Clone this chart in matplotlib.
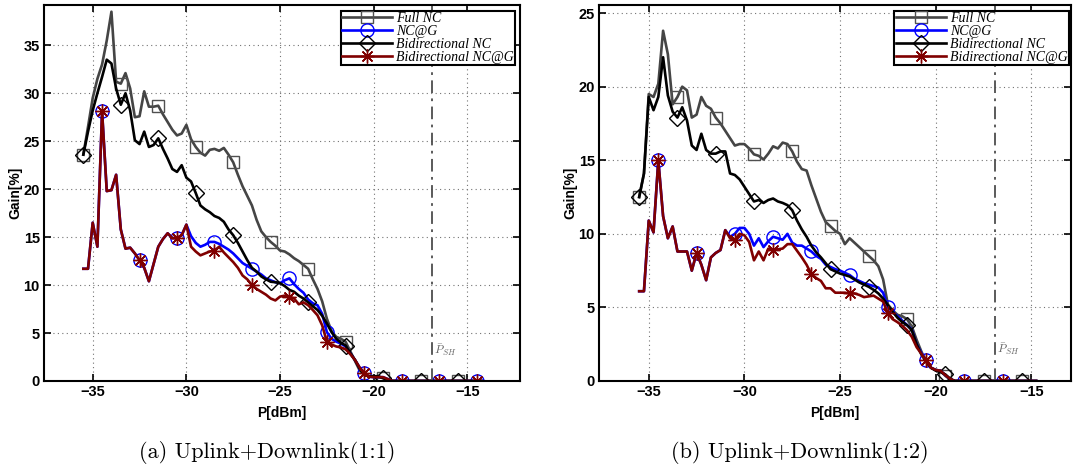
import numpy as np
import matplotlib
matplotlib.use("Agg")
import matplotlib.pyplot as plt

plt.rcParams['mathtext.fontset'] = 'cm'
plt.rcParams['font.family'] = ['Liberation Sans', 'DejaVu Sans']

# ---------------- data ----------------
x_start, step = -35.5, 0.25
left_n, right_n = 86, 84
x_left = x_start + step * np.arange(left_n)
x_right = x_start + step * np.arange(right_n)

left_full = [23.6, 26.5, 29.5, 31.5, 33.0, 35.5, 38.5, 31.2, 31.0, 32.1,
             30.5, 27.5, 27.6, 30.2, 28.6, 28.6, 28.7, 27.8, 27.0, 26.2,
             25.6, 25.8, 26.7, 25.2, 24.4, 23.8, 23.5, 24.1, 24.2, 24.0,
             24.3, 23.6, 22.8, 21.5, 20.3, 19.3, 18.3, 16.8, 15.6, 15.0,
             14.5, 14.1, 13.6, 13.5, 13.2, 12.8, 12.5, 12.1, 11.7, 10.6,
             9.6, 8.3, 6.5, 5.2, 4.6, 4.4, 4.1, 3.1, 2.1, 1.1,
             0.7, 0.5, 0.5, 0.4, 0.3, 0.1, 0, 0, 0, 0,
             0, 0, 0, 0, 0, 0, 0, 0, 0, 0,
             0, 0, 0, 0, 0, 0]
left_ncg = [11.7, 11.7, 16.5, 14.0, 28.1, 19.8, 19.9, 21.5, 15.8, 13.8,
            13.9, 13.3, 12.6, 11.8, 10.4, 12.2, 14.0, 14.8, 15.4, 14.9,
            14.9, 15.2, 16.3, 15.1, 14.4, 14.0, 14.2, 14.5, 14.5, 14.3,
            14.0, 13.7, 13.3, 12.8, 12.3, 12.0, 11.7, 11.4, 11.1, 10.7,
            10.5, 10.3, 10.2, 10.5, 10.7, 10.1, 9.6, 9.2, 8.5, 8.1,
            7.9, 7.0, 5.1, 4.4, 4.1, 3.9, 3.6, 2.9, 2.2, 1.4,
            0.85, 0.45, 0.4, 0.4, 0.4, 0.2, 0, 0, 0, 0,
            0, 0, 0, 0, 0, 0, 0, 0, 0, 0,
            0, 0, 0, 0, 0, 0]
left_bidir = [23.6, 26.0, 28.2, 30.0, 31.7, 33.5, 33.1, 30.5, 28.8, 30.0,
              28.2, 25.1, 24.7, 26.0, 24.4, 24.6, 25.3, 24.2, 23.2, 22.1,
              21.8, 22.5, 21.2, 20.8, 19.6, 18.3, 17.9, 17.6, 17.2, 17.0,
              16.6, 15.8, 15.2, 14.4, 13.5, 12.6, 11.8, 11.4, 10.9, 10.6,
              10.35, 10.3, 10.2, 9.9, 9.5, 9.3, 8.9, 8.6, 8.2, 7.8,
              7.4, 6.8, 6.0, 5.1, 4.4, 4.0, 3.7, 2.9, 2.2, 1.3,
              0.6, 0.5, 0.5, 0.5, 0.3, 0.1, 0, 0, 0, 0,
              0, 0, 0, 0, 0, 0, 0, 0, 0, 0,
              0, 0, 0, 0, 0, 0]
left_bncg = [11.7, 11.7, 16.5, 14.0, 28.1, 19.8, 19.9, 21.5, 15.8, 13.8,
             13.9, 13.3, 12.6, 11.8, 10.4, 12.2, 14.0, 14.8, 15.4, 14.9,
             14.9, 15.2, 16.3, 14.0, 13.5, 13.1, 13.3, 13.5, 13.6, 14.0,
             13.4, 12.9, 12.4, 11.8, 11.0, 10.6, 10.0, 9.6, 9.3, 9.0,
             8.6, 8.4, 8.8, 8.9, 8.8, 8.6, 8.0, 8.2, 7.9, 7.4,
             6.85, 5.8, 4.1, 3.8, 3.6, 3.5, 3.3, 2.8, 2.2, 1.4,
             0.85, 0.45, 0.4, 0.4, 0.4, 0.2, 0, 0, 0, 0,
             0, 0, 0, 0, 0, 0, 0, 0, 0, 0,
             0, 0, 0, 0, 0, 0]

right_full = [12.5, 14.1, 19.5, 19.3, 20.2, 23.8, 22.2, 18.8, 19.3, 20.0,
              19.75, 17.9, 18.1, 19.3, 18.7, 18.5, 17.9, 17.5, 17.0, 16.5,
              16.0, 16.1, 16.1, 15.8, 15.4, 15.3, 15.05, 15.45, 15.95, 15.8,
              16.2, 16.1, 15.6, 14.9, 14.4, 14.3, 13.3, 12.4, 11.5, 10.8,
              10.5, 10.2, 10.0, 9.3, 9.7, 9.4, 9.1, 8.8, 8.5, 8.2,
              7.8, 6.9, 5.2, 4.8, 4.5, 4.4, 4.2, 3.7, 2.8, 2.0,
              1.3, 0.9, 0.75, 0.7, 0.35, 0.1, 0, 0, 0, 0,
              0, 0, 0, 0, 0, 0, 0, 0, 0, 0,
              0, 0, 0, 0]
right_ncg = [6.1, 6.1, 10.9, 10.1, 15.0, 11.2, 9.7, 10.5, 8.8, 8.8,
             8.8, 7.5, 8.7, 7.9, 6.85, 8.4, 8.7, 8.9, 10.25, 9.8,
             10.0, 10.4, 10.4, 10.0, 9.2, 9.7, 9.1, 9.5, 9.8, 9.7,
             9.6, 10.0, 9.4, 9.2, 9.2, 9.0, 8.8, 8.5, 8.3, 7.9,
             7.75, 7.6, 7.5, 7.35, 7.2, 6.95, 6.8, 6.65, 6.55, 6.45,
             6.35, 6.0, 5.0, 4.7, 4.4, 4.1, 3.8, 3.5, 2.5, 1.9,
             1.4, 0.9, 0.75, 0.7, 0.4, 0.15, 0, 0, 0, 0,
             0, 0, 0, 0, 0, 0, 0, 0, 0, 0,
             0, 0, 0, 0]
right_bidir = [12.5, 14.1, 19.3, 18.4, 19.3, 22.0, 19.4, 18.3, 17.9, 18.6,
               17.7, 16.0, 15.7, 16.8, 15.7, 15.45, 15.45, 15.6, 15.6, 14.1,
               14.0, 13.7, 13.2, 12.7, 12.2, 12.3, 12.1, 12.3, 12.4, 12.2,
               12.1, 11.95, 11.6, 10.9, 10.3, 9.8, 9.2, 8.75, 8.4, 8.0,
               7.6, 7.45, 7.3, 7.2, 7.1, 6.9, 6.7, 6.55, 6.4, 6.2,
               5.95, 5.6, 5.15, 4.7, 4.3, 4.0, 3.8, 3.45, 2.5, 1.8,
               1.3, 0.9, 0.7, 0.6, 0.45, 0.15, 0, 0, 0, 0,
               0, 0, 0, 0, 0, 0, 0, 0, 0, 0,
               0, 0, 0, 0]
right_bncg = [6.1, 6.1, 10.9, 10.1, 15.0, 11.2, 9.7, 10.5, 8.8, 8.8,
              8.8, 7.5, 8.7, 7.9, 6.85, 8.4, 8.7, 8.9, 10.25, 9.7,
              9.6, 10.0, 9.9, 9.45, 8.2, 8.8, 8.2, 9.0, 8.9, 8.95,
              9.0, 9.3, 9.3, 8.85, 8.4, 7.9, 7.25, 7.0, 6.8, 6.3,
              6.3, 6.0, 6.0, 6.0, 5.95, 5.95, 5.85, 5.7, 5.75, 5.8,
              5.6, 5.4, 4.6, 4.2, 4.0, 3.75, 3.45, 3.0, 2.3, 1.85,
              1.4, 0.9, 0.75, 0.7, 0.4, 0.15, 0, 0, 0, 0,
              0, 0, 0, 0, 0, 0, 0, 0, 0, 0,
              0, 0, 0, 0]

series_labels = ['Full NC', 'NC@G', 'Bidirectional NC', 'Bidirectional NC@G']
p_sh = -16.9
x_ticks = [-35, -30, -25, -20, -15]
captions = ['(a) Uplink+Downlink(1:1)', '(b) Uplink+Downlink(1:2)']

# ---------------- styling ----------------
styles = [
    dict(color='#454545', marker='s', mec='#505050', markevery=(0, 8)),
    dict(color='#0000ff', marker='o', mec='#0000ff', markevery=(4, 8)),
    dict(color='#000000', marker='D', mec='#000000', markevery=(0, 8)),
    dict(color='#800000', marker=(8, 2, 0), mec='#800000', markevery=(4, 8)),
]
msizes = [9, 9.5, 8, 10]

fig = plt.figure(figsize=(10.73, 4.71), dpi=100)
ax1 = fig.add_axes([44/1073, 90/471, 476/1073, 376/471])
ax2 = fig.add_axes([599/1073, 90/471, 472/1073, 376/471])

panels = [
    (ax1, x_left, [left_full, left_ncg, left_bidir, left_bncg], (-37.6, -12.19), (0, 39.2),
     [0, 5, 10, 15, 20, 25, 30, 35], 3.2, (0.990, 0.985)),
    (ax2, x_right, [right_full, right_ncg, right_bidir, right_bncg], (-37.6, -12.93), (0, 25.55),
     [0, 5, 10, 15, 20, 25], 2.2, (0.996, 0.985)),
]

for ax, xs, ys, xl, yl, yt, psh_y, leg_anchor in panels:
    for y, st, ms, lab in zip(ys, styles, msizes, series_labels):
        ax.plot(xs, y, lw=1.9, mfc='none', mew=1.0, ms=ms, label=lab, **st)
    ax.axvline(p_sh, color='0.3', lw=1.3, ls=(0, (7, 3, 1.5, 3)))
    ax.text(p_sh + 0.12, psh_y, r'$\bar{P}_{SH}$', color='0.4', fontsize=8.5,
            ha='left', va='center')
    ax.set_xlim(*xl)
    ax.set_ylim(*yl)
    ax.set_xticks(x_ticks)
    ax.set_yticks(yt)
    ax.grid(True, color='0.45', ls=(0, (1, 3)), lw=0.8)
    ax.set_axisbelow(True)
    ax.tick_params(direction='in', top=True, right=True, length=5, width=1.2,
                   labelsize=10.5, pad=3)
    for lbl in ax.get_xticklabels() + ax.get_yticklabels():
        lbl.set_fontweight('bold')
    for sp in ax.spines.values():
        sp.set_linewidth(1.5)
    ax.set_xlabel('P[dBm]', fontsize=10, fontweight='bold', labelpad=5)
    ax.set_ylabel('Gain[%]', fontsize=10, fontweight='bold', labelpad=1)
    leg = ax.legend(loc='upper right', bbox_to_anchor=leg_anchor, borderaxespad=0,
                    fancybox=False, edgecolor='black', framealpha=1,
                    prop=dict(family='Liberation Serif', style='italic', size=10),
                    labelspacing=0.0, handlelength=3.6, handletextpad=0.3,
                    borderpad=0.1, numpoints=1)
    leg.get_frame().set_linewidth(1.5)

fig.text(267/1073, 1 - 452/471, captions[0], family='cmr10', fontsize=16,
         ha='center', va='center')
fig.text(800/1073, 1 - 452/471, captions[1], family='cmr10', fontsize=16,
         ha='center', va='center')

fig.savefig('out.png', dpi=100)
